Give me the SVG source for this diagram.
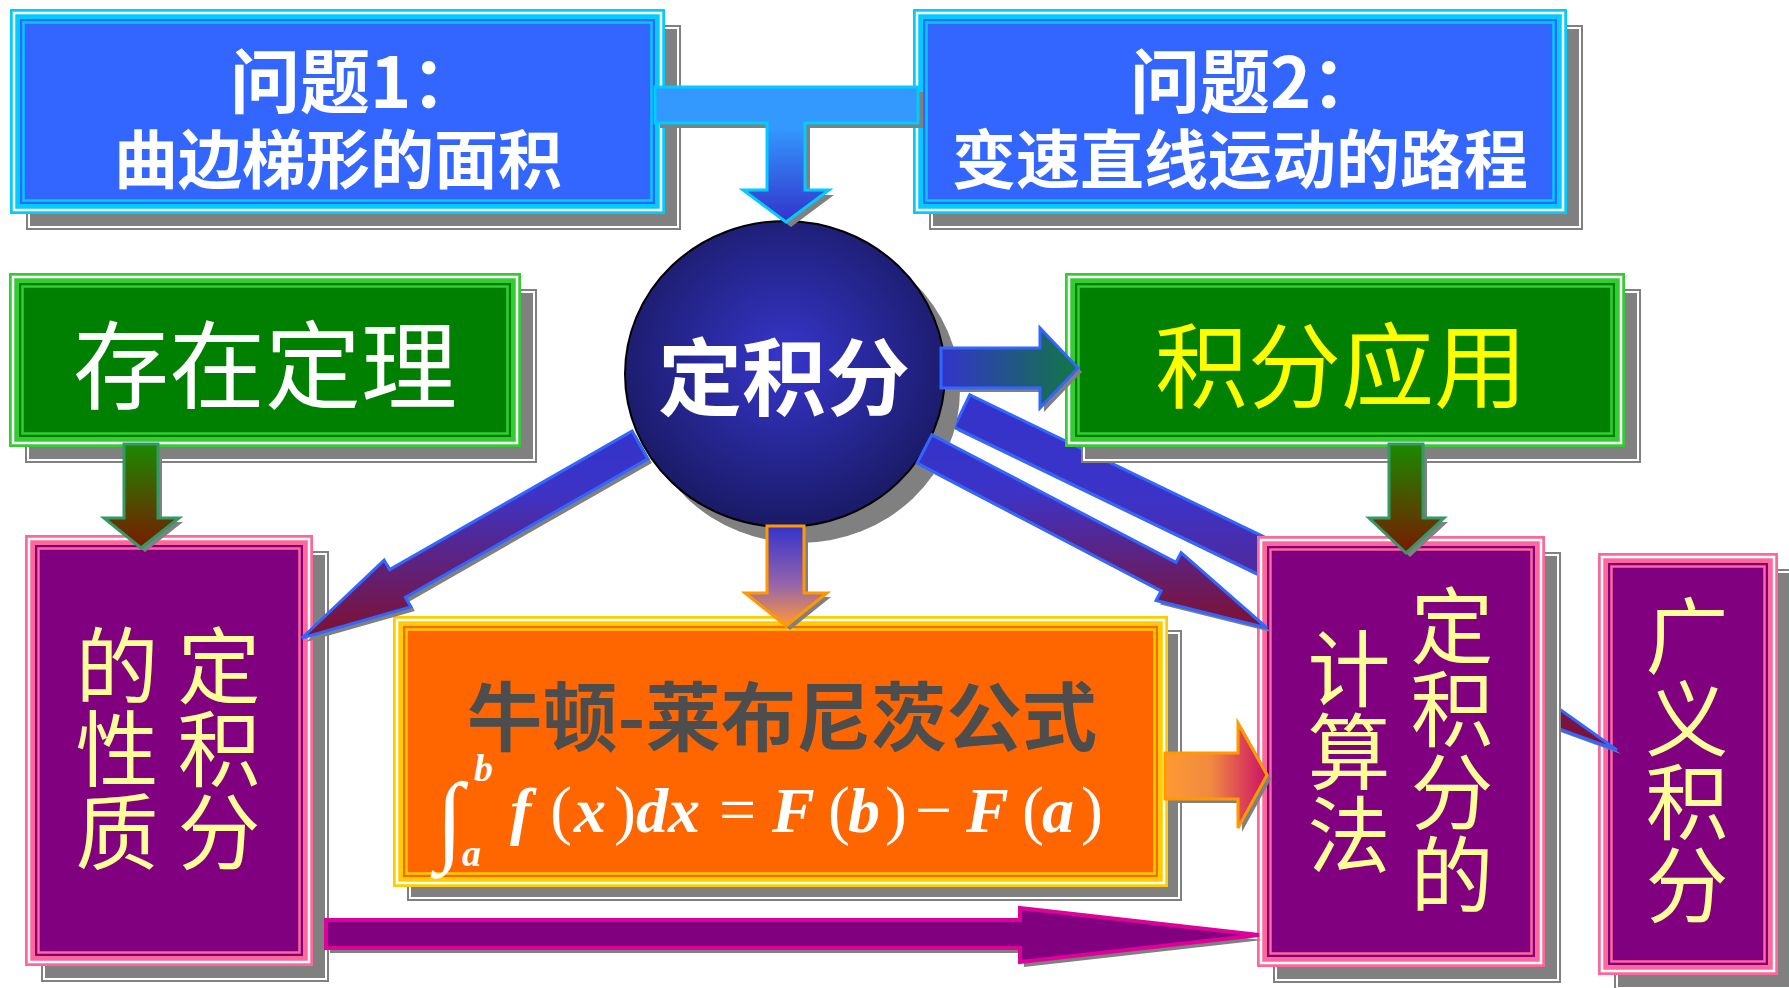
<svg xmlns="http://www.w3.org/2000/svg" width="1789" height="988" viewBox="0 0 1789 988">
<defs>
<style>
.sh{fill:#808080}
.shl{fill:none;stroke:#fff;stroke-width:2}
.wl{fill:none;stroke:#fff;stroke-width:2.5}
.cb{fill:#00ccff}.db{fill:#3366ff}.lb{fill:none;stroke:#00ccff;stroke-width:2.5}
.cg{fill:#33cc33}.dg{fill:#008000}.lg{fill:none;stroke:#33cc33;stroke-width:2.5}
.cp{fill:#ff6699}.dp{fill:#800080}.lp{fill:none;stroke:#ff6699;stroke-width:2.5}
.co{fill:#ffcc00}.do{fill:#ff6600}.lo{fill:none;stroke:#ffcc00;stroke-width:2.5}
.zh{font-family:"Noto Sans CJK SC","Noto Sans CJK TC",sans-serif}
.tw{fill:#fff;font-weight:bold}
.ty{fill:#ffff99;font-size:83px}
.v{writing-mode:vertical-rl}
.ash{fill:#808080}
.sb{stroke:#3366ff;stroke-width:3;stroke-linejoin:miter}
.sc{stroke:#00ccff;stroke-width:3}
.sgr{stroke:#339966;stroke-width:3}
.sor{stroke:#ff9900;stroke-width:3}
.smg{stroke:#dd0099;stroke-width:4}
.m{font-family:"Liberation Serif",serif;fill:#fff;font-weight:bold}
.mi{font-style:italic;font-size:64px}
.mp{font-size:66px;font-weight:normal}
.ms{font-style:italic;font-size:38px}
</style>
<linearGradient id="gT" x1="0" y1="0" x2="0" y2="1"><stop offset="0" stop-color="#3399ff"/><stop offset="0.3" stop-color="#3399ff"/><stop offset="1" stop-color="#3333cc"/></linearGradient>
<linearGradient id="gGD" x1="0" y1="0" x2="0" y2="1"><stop offset="0" stop-color="#1a8a00"/><stop offset="1" stop-color="#7a1a00"/></linearGradient>
<linearGradient id="gBO" x1="0" y1="0" x2="0" y2="1"><stop offset="0" stop-color="#3333cc"/><stop offset="0.6" stop-color="#9966aa"/><stop offset="1" stop-color="#ff9933"/></linearGradient>
<linearGradient id="gBG" x1="0" y1="0" x2="1" y2="0"><stop offset="0" stop-color="#3333cc"/><stop offset="1" stop-color="#117744"/></linearGradient>
<linearGradient id="gOR" x1="0" y1="0" x2="1" y2="0"><stop offset="0" stop-color="#ff9933"/><stop offset="0.45" stop-color="#f08a40"/><stop offset="1" stop-color="#cc1166"/></linearGradient>
<linearGradient id="gDg" x1="0" y1="0" x2="0" y2="1"><stop offset="0" stop-color="#3333cc"/><stop offset="0.3" stop-color="#3d33c6"/><stop offset="1" stop-color="#801030"/></linearGradient>
<radialGradient id="gC" cx="0.5" cy="0.45" r="0.55"><stop offset="0" stop-color="#3636cc"/><stop offset="1" stop-color="#1a1a66"/></radialGradient>
<polygon id="aT" points="655,87 918,87 918,123 805,123 805,190 829,190 786,222 743,190 767,190 767,123 655,123"/>
<polygon id="aG1" points="124,444 158,444 158,518 179,518 141,548 104,518 124,518"/>
<polygon id="aG2" points="1389,444 1423,444 1423,518 1444,518 1406,553 1369,518 1389,518"/>
<polygon id="aN" points="767,526 804,526 804,593 827,593 786,626 745,593 767,593"/>
<polygon id="aR" points="941,348 1040,348 1040,328 1078,368 1040,408 1040,388 941,388"/>
<polygon id="aL" points="632.1,431.1 389.6,569.6 384.1,560.1 302,638 410.9,606.9 405.4,597.4 647.9,458.9"/>
<polygon id="aD" points="931.9,434.8 1176,562.4 1181.1,552.7 1267,628 1156.1,600.5 1161.2,590.8 917.1,463.2"/>
<polygon id="aU" points="969.8,394.8 1430,617 1617,750 1430,682 1425,655 954.2,427.2"/>
<polygon id="aB" points="326,920 1020,920 1020,908 1259,935 1020,962 1020,948 326,948"/>
<polygon id="aO" points="1165,753 1238,753 1238,723 1267,775 1238,828 1238,799 1165,799"/>
</defs>
<rect width="1789" height="988" fill="#fff"/>

<g id="node-guangyi">
<rect class="sh" x="1614" y="569" width="180" height="422"/>
<rect class="shl" x="1617" y="572" width="174" height="416"/>
<rect class="cp" x="1598" y="553" width="180" height="422"/>
<rect class="wl" x="1602" y="557" width="172" height="414"/>
<rect class="dp" x="1608" y="563" width="160" height="402"/>
<rect class="lp" x="1611.5" y="566.5" width="153" height="395"/>
<text class="zh ty v" x="1687" y="594">广义积分</text>
</g>

<g id="connectors-back">
<use href="#aU" class="ash" transform="translate(4,4)"/>
<use href="#aU" fill="url(#gDg)" class="sb"/>
</g>

<g id="node-q1">
<rect class="sh" x="26" y="25" width="655" height="205"/>
<rect class="shl" x="29" y="28" width="649" height="199"/>
<rect class="cb" x="10" y="9" width="655" height="205"/>
<rect class="wl" x="14" y="13" width="647" height="197"/>
<rect class="db" x="20" y="19" width="635" height="185"/>
<rect class="lb" x="23.5" y="22.5" width="628" height="178"/>
<text class="zh tw"><tspan x="230" y="108" font-size="70">问题1：</tspan><tspan x="338" y="183" font-size="64" text-anchor="middle">曲边梯形的面积</tspan></text>
</g>

<g id="node-q2">
<rect class="sh" x="929" y="25" width="654" height="205"/>
<rect class="shl" x="932" y="28" width="648" height="199"/>
<rect class="cb" x="913" y="9" width="654" height="205"/>
<rect class="wl" x="917" y="13" width="646" height="197"/>
<rect class="db" x="923" y="19" width="634" height="185"/>
<rect class="lb" x="926.5" y="22.5" width="627" height="178"/>
<text class="zh tw"><tspan x="1130" y="108" font-size="70">问题2：</tspan><tspan x="1240" y="183" font-size="64" text-anchor="middle">变速直线运动的路程</tspan></text>
</g>

<g id="node-cunzai">
<rect class="sh" x="25" y="289" width="512" height="174"/>
<rect class="shl" x="28" y="292" width="506" height="168"/>
<rect class="cg" x="9" y="273" width="512" height="174"/>
<rect class="wl" x="13" y="277" width="504" height="166"/>
<rect class="dg" x="19" y="283" width="492" height="154"/>
<rect class="lg" x="22.5" y="286.5" width="485" height="147"/>
<text class="zh" x="265" y="401" font-size="96" fill="#fff" text-anchor="middle">存在定理</text>
</g>

<g id="node-yingyong">
<rect class="sh" x="1081" y="289" width="560" height="174"/>
<rect class="shl" x="1084" y="292" width="554" height="168"/>
<rect class="cg" x="1065" y="273" width="560" height="174"/>
<rect class="wl" x="1069" y="277" width="552" height="166"/>
<rect class="dg" x="1075" y="283" width="540" height="154"/>
<rect class="lg" x="1078.5" y="286.5" width="533" height="147"/>
<text class="zh" x="1341" y="401" font-size="93" fill="#ffff00" text-anchor="middle">积分应用</text>
</g>

<g id="node-dingjifen">
<ellipse cx="800" cy="390" rx="160" ry="153" fill="#808080"/>
<ellipse cx="785" cy="374" rx="160" ry="153" fill="url(#gC)" stroke="#000" stroke-width="2"/>
<text class="zh tw" x="784" y="409" font-size="84" text-anchor="middle">定积分</text>
</g>

<g id="node-xingzhi">
<rect class="sh" x="41" y="551" width="288" height="431"/>
<rect class="shl" x="44" y="554" width="282" height="425"/>
<rect class="cp" x="25" y="535" width="288" height="431"/>
<rect class="wl" x="29" y="539" width="280" height="423"/>
<rect class="dp" x="35" y="545" width="268" height="411"/>
<rect class="lp" x="38.5" y="548.5" width="261" height="404"/>
<text class="zh ty v" x="219" y="624">定积分</text>
<text class="zh ty v" x="117" y="624">的性质</text>
</g>

<g id="node-newton">
<rect class="sh" x="407" y="630" width="775" height="271"/>
<rect class="shl" x="410" y="633" width="769" height="265"/>
<rect class="co" x="393" y="616" width="775" height="271"/>
<rect class="wl" x="397" y="620" width="767" height="263"/>
<rect class="do" x="403" y="626" width="755" height="251"/>
<rect class="lo" x="406.5" y="629.5" width="748" height="244"/>
<text class="zh" x="782" y="745" font-size="75" font-weight="bold" fill="#4d4d4d" text-anchor="middle" textLength="630" lengthAdjust="spacingAndGlyphs">牛顿-莱布尼茨公式</text>
<text class="m"><tspan x="436" y="852" font-size="100" font-weight="normal">∫</tspan><tspan class="ms" x="474" y="781">b</tspan><tspan class="ms" x="462" y="866">a</tspan><tspan class="mi" x="510" y="832">f</tspan><tspan class="mp" x="550" y="832">(</tspan><tspan class="mi" x="574" y="832">x</tspan><tspan class="mp" x="614" y="832">)</tspan><tspan class="mi" x="636" y="832">d</tspan><tspan class="mi" x="668" y="832">x</tspan><tspan class="mp" x="719" y="832">=</tspan><tspan class="mi" x="772" y="832">F</tspan><tspan class="mp" x="828" y="832">(</tspan><tspan class="mi" x="848" y="832">b</tspan><tspan class="mp" x="885" y="832">)</tspan><tspan class="mp" x="915" y="832">−</tspan><tspan class="mi" x="966" y="832">F</tspan><tspan class="mp" x="1022" y="832">(</tspan><tspan class="mi" x="1042" y="832">a</tspan><tspan class="mp" x="1081" y="832">)</tspan></text>
</g>

<g id="node-jisuan">
<rect class="sh" x="1273" y="552" width="288" height="431"/>
<rect class="shl" x="1276" y="555" width="282" height="425"/>
<rect class="cp" x="1257" y="536" width="288" height="431"/>
<rect class="wl" x="1261" y="540" width="280" height="423"/>
<rect class="dp" x="1267" y="546" width="268" height="411"/>
<rect class="lp" x="1270.5" y="549.5" width="261" height="404"/>
<text class="zh ty v" x="1452" y="584">定积分的</text>
<text class="zh ty v" x="1349" y="627">计算法</text>
</g>

<g id="connectors">
<use href="#aT" class="ash" transform="translate(5,5)"/>
<use href="#aT" fill="url(#gT)" class="sc"/>
<use href="#aG1" class="ash" transform="translate(4,4)"/>
<use href="#aG1" fill="url(#gGD)" class="sgr"/>
<use href="#aG2" class="ash" transform="translate(4,4)"/>
<use href="#aG2" fill="url(#gGD)" class="sgr"/>
<use href="#aN" class="ash" transform="translate(4,4)"/>
<use href="#aN" fill="url(#gBO)" class="sor"/>
<use href="#aR" class="ash" transform="translate(4,4)"/>
<use href="#aR" fill="url(#gBG)" class="sb"/>
<use href="#aL" class="ash" transform="translate(4,4)"/>
<use href="#aL" fill="url(#gDg)" class="sb"/>
<use href="#aD" class="ash" transform="translate(4,4)"/>
<use href="#aD" fill="url(#gDg)" class="sb"/>
<use href="#aO" class="ash" transform="translate(4,4)"/>
<use href="#aO" fill="url(#gOR)" class="sor"/>
<use href="#aB" class="ash" transform="translate(4,5)"/>
<use href="#aB" fill="#800080" class="smg"/>
</g>
</svg>
